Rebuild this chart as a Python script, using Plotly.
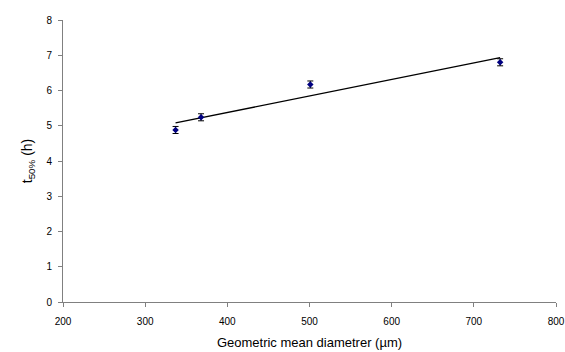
import numpy as np
import plotly.graph_objects as go

diameter = [337, 368, 501, 732]
t50 = [4.88, 5.24, 6.17, 6.80]
t50_err = [0.10, 0.10, 0.10, 0.10]

slope, intercept = np.polyfit(diameter, t50, 1)
fit_x = [min(diameter), max(diameter)]
fit_y = [slope * x + intercept for x in fit_x]

fig = go.Figure()
fig.add_trace(go.Scatter(
    x=fit_x, y=fit_y, mode="lines",
    line=dict(color="black", width=1.4), showlegend=False, hoverinfo="skip"))
fig.add_trace(go.Scatter(
    x=diameter, y=t50, mode="markers",
    marker=dict(symbol="diamond", color="#000080", size=5),
    error_y=dict(type="data", array=t50_err, color="black", thickness=1, width=3),
    showlegend=False))

font = dict(family="Liberation Sans, Arial, sans-serif", color="black")
fig.update_layout(
    width=565, height=352,
    margin=dict(l=63, r=9, t=20, b=50),
    paper_bgcolor="white", plot_bgcolor="white",
    font=dict(**font, size=11),
    xaxis=dict(range=[200, 800], tickvals=[200, 300, 400, 500, 600, 700, 800],
               automargin=False, ticklabeloverflow="allow",
               showgrid=False, zeroline=False, showline=True, linecolor="#808080",
               linewidth=1, ticks="outside", ticklen=4, tickcolor="#808080",
               tickfont=dict(size=10), ticklabelstandoff=6,
               title=dict(text="Geometric mean diametrer (µm)", font=dict(size=13), standoff=11)),
    yaxis=dict(range=[0, 8], tickvals=list(range(0, 9)),
               automargin=False, ticklabeloverflow="allow",
               showgrid=False, zeroline=False, showline=True, linecolor="#808080",
               linewidth=1, ticks="outside", ticklen=4, tickcolor="#808080",
               tickfont=dict(size=10), ticklabelstandoff=4,
               title=dict(text="t<sub>50%</sub> (h)", font=dict(size=14), standoff=10)),
)
fig.write_html("out.html", config={"displayModeBar": False},
               post_script="document.body.style.margin='0';document.body.style.overflow='hidden';")
